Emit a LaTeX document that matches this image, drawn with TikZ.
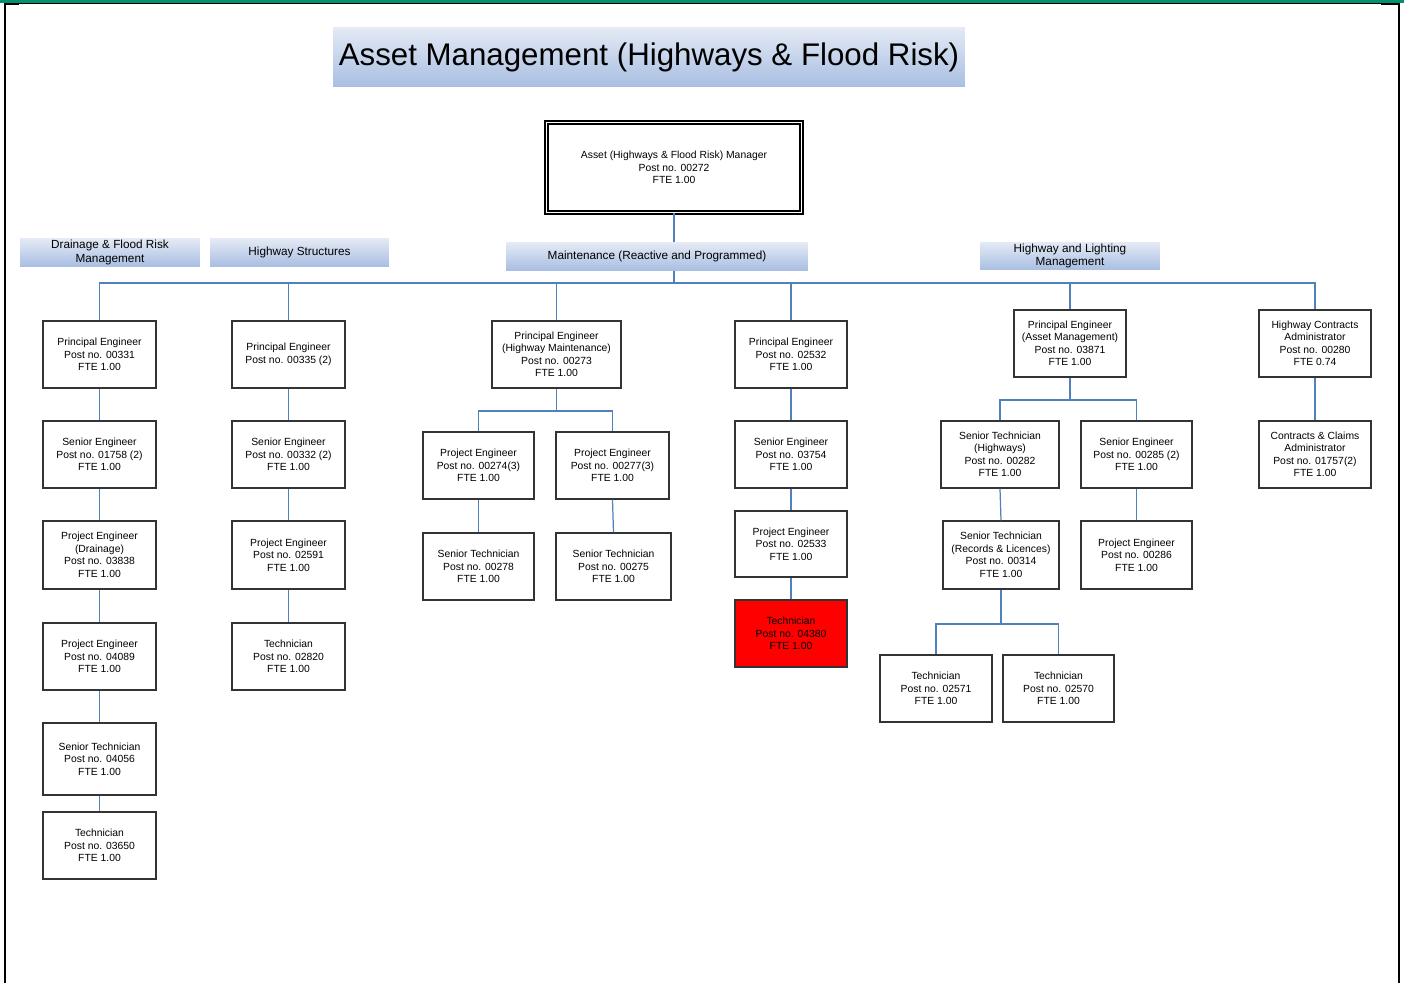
\documentclass[tikz,border=0pt]{standalone}
\usepackage{fontspec}
\setmainfont{Liberation Sans}
\usepackage{tikz}
\usetikzlibrary{positioning,calc}
\definecolor{headtop}{RGB}{228,234,245}
\definecolor{headbot}{RGB}{168,190,226}
\definecolor{linkblue}{RGB}{79,129,189}
\definecolor{framegreen}{RGB}{0,146,110}

\begin{document}
\begin{tikzpicture}[
  x=0.02cm, y=-0.02cm,
  post/.style={draw=black!80, line width=0.8pt, fill=white, minimum width=2.26cm, minimum height=1.34cm,
    align=center, inner sep=1pt, font=\fontsize{5.9}{7.1}\selectfont},
  head/.style={top color=headtop, bottom color=headbot, draw=none, minimum width=3.6cm, minimum height=0.55cm,
    align=center, inner sep=0pt, font=\fontsize{6.7}{7.9}\selectfont},
  link/.style={draw=linkblue, line width=0.7pt}
]
\useasboundingbox (0,0) rectangle (1404,983);
\fill[framegreen] (0,0) rectangle (1404,3);
\draw[line width=0.6pt] (5,3.5) -- (1399,3.5);
\draw[line width=1.3pt] (5,3) -- (5,983);
\draw[line width=1.3pt] (1399,3) -- (1399,983);
\draw[line width=1.1pt] (5,4.5) -- (19,4.5);
\draw[line width=1.1pt] (1381,4.5) -- (1399,4.5);

\node[head, minimum width=12.64cm, minimum height=1.2cm, font=\fontsize{17.8}{20}\selectfont] (title) at (649,57) {Asset Management (Highways \& Flood Risk)};

\node[post, draw=black, double=white, double distance=1.1pt, line width=0.7pt, minimum width=5.1cm, minimum height=1.8cm] (mgr) at (674,167.5) {Asset (Highways \& Flood Risk) Manager\\Post no. 00272\\FTE 1.00};

\node[head] (drain) at (110,252.5) {Drainage \& Flood Risk\\Management};
\node[head, minimum width=3.58cm] (struct) at (299.5,252.5) {Highway Structures};
\node[head, minimum width=6.04cm] (maint) at (657,256.5) {Maintenance (Reactive and Programmed)};
\node[head, minimum height=0.56cm] (light) at (1070,256) {Highway and Lighting\\Management};

\coordinate (bus) at (674,283);
\coordinate (forkc) at (556.5,411);
\coordinate (forke) at (1070,400);
\coordinate (forkt) at (1001,624);

% drainage
\node[post] (pe1) at (99.5,354.5) {Principal Engineer\\Post no. 00331\\FTE 1.00};
\node[post] (se1) at (99.5,454.5) {Senior Engineer\\Post no. 01758 (2)\\FTE 1.00};
\node[post, minimum height=1.36cm] (pd1) at (99.5,555) {Project Engineer\\(Drainage)\\Post no. 03838\\FTE 1.00};
\node[post] (pj1) at (99.5,656.5) {Project Engineer\\Post no. 04089\\FTE 1.00};
\node[post, minimum height=1.44cm] (st1) at (99.5,759) {Senior Technician\\Post no. 04056\\FTE 1.00};
\node[post] (te1) at (99.5,845.5) {Technician\\Post no. 03650\\FTE 1.00};

% structures
\node[post] (pe2) at (288.5,354.5) {Principal Engineer\\Post no. 00335 (2)};
\node[post] (se2) at (288.5,454.5) {Senior Engineer\\Post no. 00332 (2)\\FTE 1.00};
\node[post, minimum height=1.36cm] (pj2) at (288.5,555) {Project Engineer\\Post no. 02591\\FTE 1.00};
\node[post] (te2) at (288.5,656.5) {Technician\\Post no. 02820\\FTE 1.00};

% maintenance
\node[post, minimum width=2.58cm] (pe3) at (556.5,354.5) {Principal Engineer\\(Highway Maintenance)\\Post no. 00273\\FTE 1.00};
\node[post, minimum width=2.22cm] (pa3) at (478.5,465.5) {Project Engineer\\Post no. 00274(3)\\FTE 1.00};
\node[post] (pb3) at (612.5,465.5) {Project Engineer\\Post no. 00277(3)\\FTE 1.00};
\node[post, minimum width=2.22cm] (sa3) at (478.5,566.5) {Senior Technician\\Post no. 00278\\FTE 1.00};
\node[post, minimum width=2.3cm] (sb3) at (613.5,566.5) {Senior Technician\\Post no. 00275\\FTE 1.00};

\node[post, minimum width=2.24cm] (pe4) at (791,354.5) {Principal Engineer\\Post no. 02532\\FTE 1.00};
\node[post, minimum width=2.24cm] (se4) at (791,454.5) {Senior Engineer\\Post no. 03754\\FTE 1.00};
\node[post, minimum width=2.24cm, minimum height=1.32cm] (pj4) at (791,544) {Project Engineer\\Post no. 02533\\FTE 1.00};
\node[post, minimum width=2.24cm, fill=red] (te4) at (791,633.5) {Technician\\Post no. 04380\\FTE 1.00};

% lighting
\node[post, minimum width=2.24cm] (pe5) at (1070,343.5) {Principal Engineer\\(Asset Management)\\Post no. 03871\\FTE 1.00};
\node[post, minimum width=2.36cm] (sa5) at (1000,454.5) {Senior Technician\\(Highways)\\Post no. 00282\\FTE 1.00};
\node[post, minimum width=2.22cm] (sb5) at (1136.5,454.5) {Senior Engineer\\Post no. 00285 (2)\\FTE 1.00};
\node[post, minimum width=2.32cm, minimum height=1.36cm] (ra5) at (1001,555) {Senior Technician\\(Records \& Licences)\\Post no. 00314\\FTE 1.00};
\node[post, minimum width=2.22cm, minimum height=1.36cm] (pj5) at (1136.5,555) {Project Engineer\\Post no. 00286\\FTE 1.00};
\node[post, minimum width=2.24cm] (ta5) at (936,688.5) {Technician\\Post no. 02571\\FTE 1.00};
\node[post, minimum width=2.22cm] (tb5) at (1058.5,688.5) {Technician\\Post no. 02570\\FTE 1.00};

\node[post, minimum width=2.24cm] (hca) at (1315,343.5) {Highway Contracts\\Administrator\\Post no. 00280\\FTE 0.74};
\node[post, minimum width=2.24cm] (cca) at (1315,454.5) {Contracts \& Claims\\Administrator\\Post no. 01757(2)\\FTE 1.00};

\draw[link] (mgr) -- (mgr |- maint.north);
\draw[link] (bus |- maint.south) -- (bus);
\foreach \n in {pe1,pe2,pe3,pe4,pe5,hca}
  \draw[link] (\n.north) |- (bus);

\draw[link] (pe1) -- (se1);
\draw[link] (se1) -- (pd1);
\draw[link] (pd1) -- (pj1);
\draw[link] (pj1) -- (st1);
\draw[link] (st1) -- (te1);

\draw[link] (pe2) -- (se2);
\draw[link] (se2) -- (pj2);
\draw[link] (pj2) -- (te2);

\draw[link] (pe3) -- (forkc);
\draw[link] (pa3.north) |- (forkc);
\draw[link] (pb3.north) |- (forkc);
\draw[link] (pa3) -- (sa3);
\draw[link] (pb3.south) -- (sb3.north);

\draw[link] (pe4) -- (se4);
\draw[link] (se4) -- (pj4);
\draw[link] (pj4) -- (te4);

\draw[link] (pe5) -- (forke);
\draw[link] (sa5.north) |- (forke);
\draw[link] (sb5.north) |- (forke);
\draw[link] (sa5.south) -- (ra5.north);
\draw[link] (sb5) -- (pj5);
\draw[link] (ra5) -- (forkt);
\draw[link] (ta5.north) |- (forkt);
\draw[link] (tb5.north) |- (forkt);

\draw[link] (hca) -- (cca);
\end{tikzpicture}
\end{document}
